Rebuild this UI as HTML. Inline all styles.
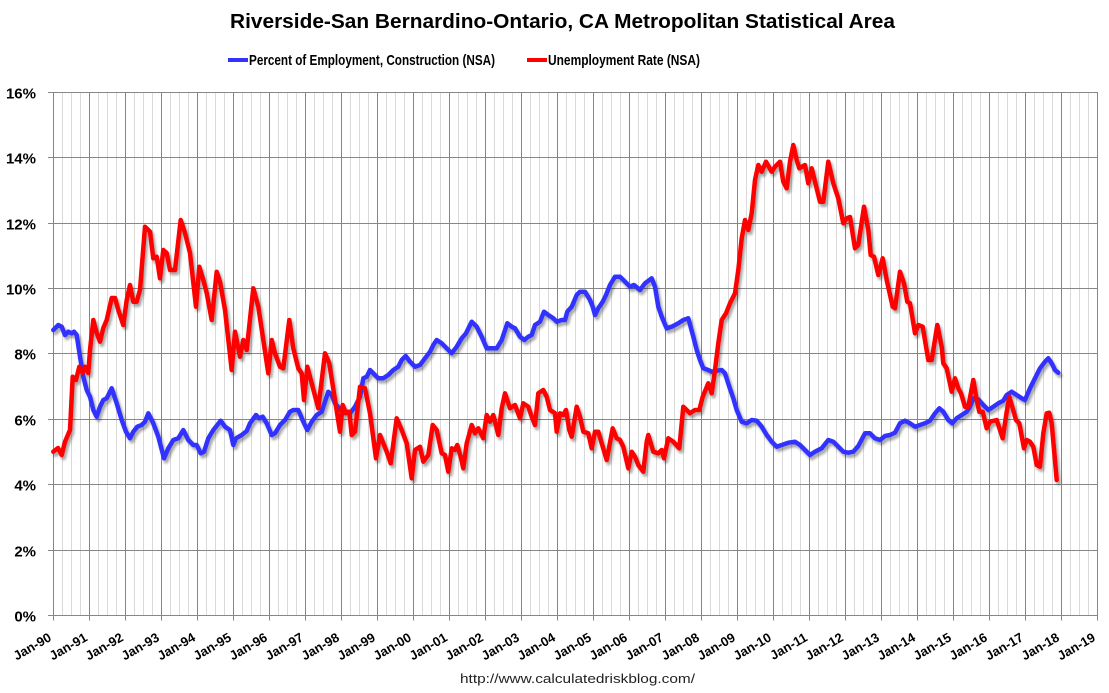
<!DOCTYPE html>
<html>
<head>
<meta charset="utf-8">
<style>
  html, body { margin:0; padding:0; background:#fff; }
  svg { display:block; }
  text { font-family: "Liberation Sans", Arial, sans-serif; }
</style>
</head>
<body>
<svg width="1109" height="693" viewBox="0 0 1109 693" xmlns="http://www.w3.org/2000/svg">
  <defs>
    <filter id="sh" x="-5%" y="-5%" width="110%" height="115%">
      <feDropShadow dx="2" dy="3" stdDeviation="1.4" flood-color="#000" flood-opacity="0.35"/>
    </filter>
  </defs>
  <rect x="0" y="0" width="1109" height="693" fill="#fff"/>

  <!-- Title -->
  <text x="230" y="28" font-size="20" font-weight="bold" fill="#000" textLength="665" lengthAdjust="spacingAndGlyphs">Riverside-San Bernardino-Ontario, CA Metropolitan Statistical Area</text>

  <!-- Legend -->
  <line x1="228" y1="60" x2="248" y2="60" stroke="#3333ff" stroke-width="4"/>
  <text x="249" y="65" font-size="15" font-weight="bold" fill="#000" textLength="246" lengthAdjust="spacingAndGlyphs">Percent of Employment, Construction (NSA)</text>
  <line x1="527" y1="60" x2="547" y2="60" stroke="#ff0000" stroke-width="4"/>
  <text x="548" y="65" font-size="15" font-weight="bold" fill="#000" textLength="152" lengthAdjust="spacingAndGlyphs">Unemployment Rate (NSA)</text>

  <!-- Grid -->
  <g id="minor" stroke="#d9d9d9" stroke-width="1"></g>
  <g id="major" stroke="#878787" stroke-width="1"></g>
  <g id="hgrid" stroke="#878787" stroke-width="1"></g>
  <g id="ylab" font-size="15" font-weight="bold" fill="#000" text-anchor="end"></g>
  <g id="xlab" font-size="13" font-weight="bold" fill="#000" text-anchor="end"></g>

  <!-- Series -->
  <g filter="url(#sh)" fill="none" stroke-linejoin="round" stroke-linecap="round" stroke-width="4.5">
    <polyline stroke="#3333ff" points="53.3,330 58.3,325 61.7,326.7 65,335 68.3,331.7 71.7,333.3 74,331.7 76.7,335 80,356.7 83.3,376.7 86.7,390 90,396.7 93.3,410 96.7,416.7 100,406.7 103.3,400 106.7,398.3 111.7,388.3 116.7,403.3 121.7,420 126,431.7 130,438.3 133.3,431.7 137.3,426.7 141.7,425 145,421.7 148.3,413.3 153.3,423.3 158.3,436.7 164,458.3 168.3,448.3 173.3,440 178.3,438.3 183.3,430 188.3,440 193.3,445 196.7,445 200.7,453.3 204,451.7 208.3,438.3 213.3,430 220.7,420.7 225,426.7 230,430 233.3,445 236,438.3 241.7,435 246.7,431 250,423.3 256,415 259.3,418.3 262.7,416.7 266.7,423.3 271.7,435 275,433.3 280,425 285,420 290,411.7 293.3,410 298.3,410 303.3,421.7 307.3,430 311.7,421.7 316.7,415 321.7,411.7 325,401.7 328.3,391.7 331.7,395 335,403.3 339.3,408.3 343.3,413.3 346.7,411.7 350,413.3 355,406.7 360,396.7 363.3,378.3 366.7,376.7 370,370 373.3,373.3 378.3,378.3 383.3,378.3 388.3,375 393.3,370 398.3,366.7 401.7,360 405.7,356 410,361.7 415,366.7 420,365 425,358.3 430,351.7 433.3,345 436.7,340 441.7,343.3 446.7,348.3 451.7,353.3 456.7,346.7 461.7,338.3 466,333.3 471.7,321.7 476.7,326.7 481.7,336.7 486.7,348.3 491.7,348.3 496.7,348.3 501.7,340 507.3,323.3 511.7,326.7 515,328.3 520,336.7 524.3,340 528.3,336.7 531.7,335 535,325 540,321.7 544,311.7 548.3,315 553.3,318.3 556.7,321.7 561.7,320 565,320 567.3,311.7 571.7,306.7 576.7,295 580,291.7 585,291.7 590,300 592.7,306.7 595,315 598.3,308.3 602.7,301.7 606,295 610,285 615,276.7 620,276.7 625,281.7 630,286.7 634,285 640,290 645,283.3 651.7,278.3 655,286.7 658.3,306.7 661.7,316.7 666.7,328.3 671.7,326.7 678.3,323.3 683.3,320 688.3,318.3 693.3,336.7 696.7,350 700,360 703.3,368.3 708.3,370 711.7,371.7 716.7,370.7 721.7,370 725,373.3 729.3,386.7 733.3,398.3 736.7,410 741.7,421.7 746.7,423.3 751.7,420 756.7,420.7 761.7,426.7 766.7,435 771.7,441.7 776.7,446.7 781.7,445 788.3,442.7 795,441.7 800,445 805,450 810,455 815,451.7 821.7,448.3 828.3,440 833.3,441.7 838.3,446.7 843.3,451.7 848.3,452.7 853.3,451.7 858.3,446 865,433.3 870,433.3 875,438.3 880,440 885,436 890,435 895,432.7 900,423.3 905,420.7 910,423.3 915,426.7 920,425 925,423.3 930,420.7 935,413.3 939.3,408.3 943.3,411.7 948.3,420 952.3,423.3 956.7,418.3 961.7,415 966.7,411.7 970,406.7 973.3,398.3 978.3,399.3 983.3,405 988.3,410 993.3,406.7 998.3,403.3 1003.3,400.7 1006.7,395 1011.7,391.7 1016.7,395 1021.7,398.3 1025,400 1030,388.3 1035,378.3 1040,368.3 1045,361.7 1048.3,358.3 1051.7,363.3 1055,370 1058.3,372.7"/>
    <polyline stroke="#ff0000" points="53.3,451.7 58,448 61.7,455 65,441.7 70,430 72.7,376.7 76,380 79.3,366.7 82.7,373 85,366.7 88.3,373 90,350 93.3,320 96.7,333 100,341.7 103.3,328 106.7,320 111.7,298 115,298 118.3,310 123.3,325 126.7,300 130,285 133.3,301.7 136.7,301.7 140,290 145,226.7 150,231.7 153.3,258.3 156.7,256.7 160,278.3 163.3,250 166.7,253 170,270 175,270 180.7,220 185,233 190,253 196,306.7 199.3,266.7 203.3,280 206.7,293 211.7,320 216.7,271.7 220,281.7 225,310 231.7,370 235,331.7 240,356.7 243.3,340 246.7,350 253.3,288.3 258.3,306.7 263.3,340 268.3,373.3 271.7,340 275,353.3 280,366.7 283.3,368.3 289.3,320 293.3,348.3 298.3,368.3 301.7,373.3 304,400 307.3,366.7 311.7,383.3 318.3,408.3 325,353.3 329.3,363.3 335,400 340,431.7 342.7,405 346,413.3 349.3,411.7 351.7,435 355,431.7 360,386.7 365,388.3 370,413.3 376,458.3 380,435 386.7,451.7 390.7,463.3 396.7,418.3 401.7,430 406.7,443.3 411.7,478.3 415,450 420,446.7 423.3,461.7 428.3,455 432.7,425 436.7,430 441.7,453.3 445,455 448.3,471.7 451.7,448.3 455,450 457.3,445 460.7,456.7 463.3,468.3 466.7,443.3 471.7,425 475,433.3 478.3,428.3 483.3,438.3 486.7,415 490,421.7 493.3,415 498.3,435 501.7,408.3 505,393.3 510,408.3 515,405 520,418.3 523.3,403.3 528.3,406.7 531.7,416.7 535,425 538.3,393.3 543.3,390 546.7,396.7 550,410 555,413.3 556.7,431.7 560,413.3 563.3,415 566,410 569.3,430 571.7,436.7 576.7,406.7 580,416.7 583.3,431.7 588.3,433.3 591.7,448.3 595,431.7 598.3,431.7 601.7,443.3 606.7,460 612.7,428.3 616.7,438.3 620,440 623.3,446.7 628.3,468.3 631.7,451.7 635,456.7 638.3,465 643.3,471.7 646.7,441.7 648.3,435 653.3,451.7 658.3,453.3 661.7,450 664,458.3 668.3,438.3 673.3,441.7 679.3,448.3 683.3,406.7 690,413.3 695,410 699.3,410 702.7,396.7 708.3,383.3 711.7,393.3 715,370 718.3,343.3 721.7,320 726,313.3 730,303.3 735,293.3 738.3,270 741.7,238.3 745,220 748.3,230 751.7,213.3 755,180 758.3,165 761.7,171.7 766,161.7 771.7,171.7 775,166.7 780,161.7 783.3,181.7 786.7,188.3 790,161.7 793.3,145 796.7,160 799.3,168.3 805,165 808.3,183.3 811.7,168.3 815,181.7 820,201.7 823.3,201.7 828.3,161.7 833.3,183.3 838.3,198.3 843.3,223.3 846.7,218.3 850,217 855,248.3 858.3,245 864,206.7 868.3,230 870.7,255 874,256.7 878.3,275 882.7,258.3 886.7,280 892.7,306.7 895,308.3 900,271.7 904,283.3 907.3,301.7 910,303.3 915,333.3 918.3,325 922.7,326.7 928.3,360 931.7,360 937.3,325 941.7,346.7 943.3,363.3 946.7,368.3 951.7,391.7 955,378.3 958.3,388.3 961,393.3 965,406.7 968.3,406.7 973.3,380 976.7,400 979.3,411.7 982.7,411.7 986.7,428.3 990,421.7 996.7,420 1000,430 1002.7,438.3 1006.7,411.7 1009.3,396.7 1012.7,408.3 1016,420 1019.3,423.3 1024,448.3 1026.7,440 1030,441.7 1033.3,446.7 1036.7,465 1040,466.7 1043.3,433.3 1046.7,413.3 1049.3,412.7 1051.7,423.3 1056.7,480"/>
  </g>

  <!-- Footer -->
  <text x="460" y="683" font-size="13" fill="#222" textLength="235" lengthAdjust="spacingAndGlyphs">http://www.calculatedriskblog.com/</text>

  <script>
    (function(){
      var NS = "http://www.w3.org/2000/svg";
      var minor = document.getElementById("minor");
      var major = document.getElementById("major");
      var hgrid = document.getElementById("hgrid");
      var ylab = document.getElementById("ylab");
      var xlab = document.getElementById("xlab");
      function ln(g, x1, y1, x2, y2){
        var l = document.createElementNS(NS, "line");
        l.setAttribute("x1", x1); l.setAttribute("y1", y1);
        l.setAttribute("x2", x2); l.setAttribute("y2", y2);
        g.appendChild(l);
      }
      var top = 92, bot = 615.5, left = 53.5;
      for (var i = 0; i <= 116; i++) {
        var x = left + 9 * i;
        if (i % 4 === 0) {
          ln(major, x, top, x, bot + 5);
        } else {
          ln(minor, x, top, x, bot);
        }
      }
      for (var k = 0; k <= 8; k++) {
        var y = Math.round((615.3 - k * 65.4) * 2) / 2;
        if (y % 1 === 0) y += 0.5;
        ln(hgrid, 48, y, 1097.5, y);
        var t = document.createElementNS(NS, "text");
        t.setAttribute("x", 36);
        t.setAttribute("y", y + 6);
        t.textContent = (k * 2) + "%";
        ylab.appendChild(t);
      }
      for (var j = 0; j <= 29; j++) {
        var xx = 53.3 + 36 * j;
        var yr = (90 + j) % 100;
        var s = "Jan-" + (yr < 10 ? "0" + yr : "" + yr);
        var tt = document.createElementNS(NS, "text");
        var ax = xx - 1, ay = 640;
        tt.setAttribute("x", ax);
        tt.setAttribute("y", ay);
        tt.setAttribute("transform", "rotate(-30 " + ax + " " + ay + ")");
        tt.textContent = s;
        xlab.appendChild(tt);
      }
    })();
  </script>
</svg>
</body>
</html>
